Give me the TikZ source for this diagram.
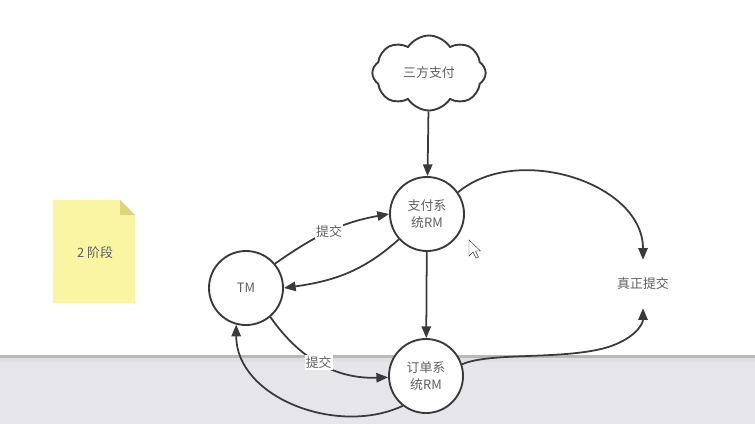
\documentclass[tikz,border=0pt]{standalone}
\usepackage{fontspec}
\setmainfont{Noto Sans CJK SC}
\usetikzlibrary{shapes.symbols,arrows.meta}
\definecolor{txt}{HTML}{606060}
\definecolor{ln}{HTML}{3A3A3A}
\definecolor{band}{HTML}{E6E6EA}
\definecolor{note}{HTML}{FAF5A2}
\definecolor{fold}{HTML}{DCD57E}
\tikzset{
  rm/.style={circle, draw=ln, line width=1.6pt, fill=white, minimum size=2.22cm, inner sep=0pt,
    align=center, text=txt, font=\fontsize{11}{14.5}\selectfont},
  conn/.style={draw=ln, line width=1.5pt, -{Triangle[length=10pt,width=8pt]}},
  lbl/.style={fill=white, inner sep=1pt, text=txt, font=\fontsize{11}{13}\selectfont}
}
\begin{document}
\begin{tikzpicture}[x=0.03cm,y=-0.03cm]
\useasboundingbox (0,0) rectangle (755,424);
\fill[white] (0,0) rectangle (755,424);
% gray band
\fill[band] (0,357) rectangle (755,424);
\fill[gray!55] (0,355) rectangle (755,358);
\fill[gray!25] (0,358) rectangle (755,362);
% sticky note
\fill[note] (53,200) -- (120,200) -- (135,215) -- (135,303) -- (53,303) -- cycle;
\fill[fold] (120,200) -- (135,215) -- (120,215) -- cycle;
\node[text=txt, font=\fontsize{11}{13}\selectfont] (note) at (95,253) {2 阶段};
% nodes
\node[cloud, cloud puffs=8, cloud puff arc=115, aspect=1.4, draw=ln, line width=1.6pt, fill=white,
  minimum width=3.4cm, minimum height=2.25cm, inner sep=0pt, text=txt, font=\fontsize{11}{13}\selectfont]
  (cloud) at (429,73) {三方支付};
\node[rm] (zf) at (427,214) {支付系\\统RM};
\node[rm] (tm) at (246,288) {TM};
\node[rm] (dd) at (426,376) {订单系\\统RM};
\node[text=txt, font=\fontsize{11}{13}\selectfont, minimum height=1.44cm, inner sep=0pt] (real) at (643,284) {真正提交};
% edges
\draw[conn] (cloud) -- (zf);
\draw[conn] (zf) -- (dd);
\draw[conn] (tm.40) to[out=35,in=190] node[lbl, pos=0.5] {提交} (zf.west);
\draw[conn] (zf.222) to[out=222,in=8] (tm.east);
\draw[conn] (tm.-50) to[out=-55,in=182] node[lbl, pos=0.48] {提交} (dd.182);
\draw[conn] (dd.232) to[out=205,in=-90] (tm.-105);
\draw[conn] (zf.35) to[out=40,in=90] (real.north);
\draw[conn] (dd.18) .. controls (490,352) and (560,360) .. (605,348) .. controls (633,340) and (643,325) .. (real.south);
% cursor
\draw[ln, line width=0.4pt, fill=white, shift={(469,240)}]
  (0,0) -- (0,16) -- (4,12) -- (7,18) -- (9.5,17) -- (6.5,11) -- (11.5,11) -- cycle;
\end{tikzpicture}
\end{document}
